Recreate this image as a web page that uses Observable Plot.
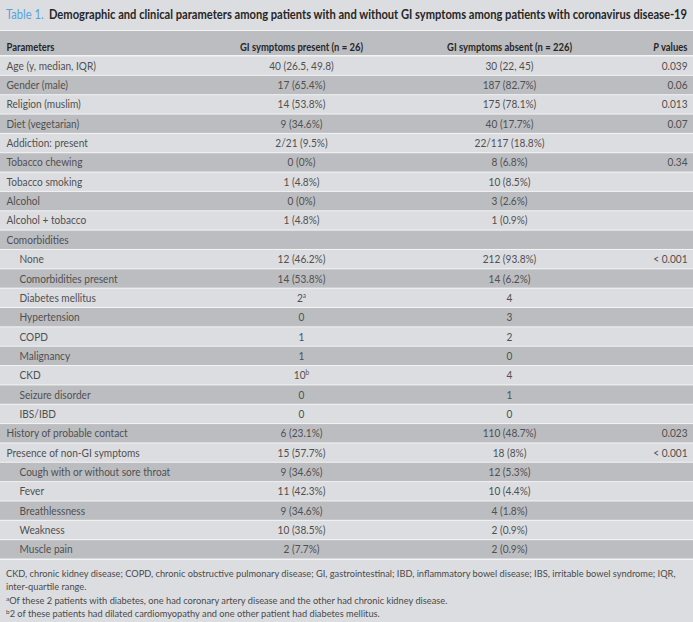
<!DOCTYPE html>
<html>
<head>
<meta charset="utf-8">
<script src="https://cdn.jsdelivr.net/npm/d3@7"></script>
<script src="https://cdn.jsdelivr.net/npm/@observablehq/plot@0.6"></script>
<style>
  html, body { margin: 0; padding: 0; background: #dcdde0; }
  #wrap { width: 693px; height: 622px; overflow: hidden; background: #dcdde0; }
  #title { height: 30px; line-height: 28px; padding-left: 6px; white-space: nowrap; }
  #title .inner { display: inline-block; transform-origin: 0 50%;
    font-family: Lato, "Liberation Sans", sans-serif; font-weight: bold; font-size: 12.5px; color: #262626; }
  #title .lab { color: #55a3dc; font-weight: normal; margin-right: 3px; }
  #foot { padding: 7px 6px 0 6px; font-family: Lato, "Liberation Sans", sans-serif; font-size: 10px; line-height: 13.4px; color: #4a4a4a; white-space: nowrap; }
  #foot sup { font-size: 6.5px; vertical-align: 3px; line-height: 0; }
  svg { display: block; }
</style>
</head>
<body>
<div id="wrap">
  <div id="title"><span class="inner"><span class="lab">Table 1.</span> Demographic and clinical parameters among patients with and without GI symptoms among patients with coronavirus disease-19</span></div>
  <div id="head"></div>
  <div id="body"></div>
  <div id="foot">
    <span id="fl1">CKD, chronic kidney disease; COPD, chronic obstructive pulmonary disease; GI, gastrointestinal; IBD, inflammatory bowel disease; IBS, irritable bowel syndrome; IQR,</span><br>
    inter-quartile range.<br>
    <sup>a</sup>Of these 2 patients with diabetes, one had coronary artery disease and the other had chronic kidney disease.<br>
    <sup>b</sup>2 of these patients had dilated cardiomyopathy and one other patient had diabetes mellitus.
  </div>
</div>
<script>
// ---- data ----
const headers = ["Parameters", "GI symptoms present (n = 26)", "GI symptoms absent (n = 226)", "P values"];
const parameters = [
  "Age (y, median, IQR)", "Gender (male)", "Religion (muslim)", "Diet (vegetarian)",
  "Addiction: present", "Tobacco chewing", "Tobacco smoking", "Alcohol", "Alcohol + tobacco",
  "Comorbidities", "None", "Comorbidities present", "Diabetes mellitus", "Hypertension",
  "COPD", "Malignancy", "CKD", "Seizure disorder", "IBS/IBD",
  "History of probable contact", "Presence of non-GI symptoms",
  "Cough with or without sore throat", "Fever", "Breathlessness", "Weakness", "Muscle pain"
];
const level = [0,0,0,0, 0,0,0,0,0, 0,1,1,1,1, 1,1,1,1,1, 0,0, 1,1,1,1,1];
const giPresent = [
  "40 (26.5, 49.8)", "17 (65.4%)", "14 (53.8%)", "9 (34.6%)",
  "2/21 (9.5%)", "0 (0%)", "1 (4.8%)", "0 (0%)", "1 (4.8%)",
  "", "12 (46.2%)", "14 (53.8%)", "2ᵃ", "0",
  "1", "1", "10ᵇ", "0", "0",
  "6 (23.1%)", "15 (57.7%)",
  "9 (34.6%)", "11 (42.3%)", "9 (34.6%)", "10 (38.5%)", "2 (7.7%)"
];
const giAbsent = [
  "30 (22, 45)", "187 (82.7%)", "175 (78.1%)", "40 (17.7%)",
  "22/117 (18.8%)", "8 (6.8%)", "10 (8.5%)", "3 (2.6%)", "1 (0.9%)",
  "", "212 (93.8%)", "14 (6.2%)", "4", "3",
  "2", "0", "4", "1", "0",
  "110 (48.7%)", "18 (8%)",
  "12 (5.3%)", "10 (4.4%)", "4 (1.8%)", "2 (0.9%)", "2 (0.9%)"
];
const pValues = [
  "0.039", "0.06", "0.013", "0.07",
  "", "0.34", "", "", "",
  "", "< 0.001", "", "", "",
  "", "", "", "", "",
  "0.023", "< 0.001",
  "", "", "", "", ""
];

// ---- layout ----
const W = 693;
const LIGHT = "#dcdde0", DARK = "#bcbdc1";
const xPos = {param: 6, indent: 19, present: 301, absent: 509, p: 687};
const bodyFont = "Lato, 'Liberation Sans', sans-serif";

const rows = parameters.map((p, i) => ({
  id: i, param: p, level: level[i], present: giPresent[i], absent: giAbsent[i], p: pValues[i]
}));

const xScale = {type: "linear", domain: [0, W], range: [0, W], axis: null};

// header
const headRow = [{id: "h", c0: headers[0], c1: headers[1], c2: headers[2], c3: headers[3]}];
const ht = {y: "id", fontWeight: "bold", fontSize: 11, fill: "#262626", dy: 3.5};
const headPlot = Plot.plot({
  width: W, height: 26, margin: 0, marginTop: 1, marginBottom: 1,
  style: {background: "#f4f4f5", fontFamily: bodyFont},
  x: xScale,
  y: {type: "band", domain: ["h"], padding: 0, round: false, axis: null},
  marks: [
    Plot.cell(headRow, {y: "id", fill: DARK}),
    Plot.text(headRow, {...ht, x: () => xPos.param, text: "c0", textAnchor: "start"}),
    Plot.text(headRow, {...ht, x: () => xPos.present, text: "c1", textAnchor: "middle"}),
    Plot.text(headRow, {...ht, x: () => xPos.absent, text: "c2", textAnchor: "middle"}),
    Plot.text(headRow, {...ht, x: () => xPos.p, text: "c3", textAnchor: "end"})
  ]
});
document.getElementById("head").appendChild(headPlot);

// body
const txt = {y: "id", fontSize: 11, fill: "#505050"};
const bodyPlot = Plot.plot({
  width: W, height: 504, margin: 0, marginBottom: 1,
  style: {background: "#f4f4f5", fontFamily: bodyFont},
  x: xScale,
  y: {type: "band", domain: rows.map(d => d.id), padding: 0, round: false, axis: null},
  marks: [
    Plot.cell(rows, {y: "id", fill: d => (d.id % 2 ? DARK : LIGHT), insetBottom: 0.5, insetTop: 0.5}),
    Plot.text(rows, {...txt, x: d => (d.level ? xPos.indent : xPos.param), text: "param", textAnchor: "start"}),
    Plot.text(rows, {...txt, x: () => xPos.present, text: "present", textAnchor: "middle"}),
    Plot.text(rows, {...txt, x: () => xPos.absent, text: "absent", textAnchor: "middle"}),
    Plot.text(rows, {...txt, x: () => xPos.p, text: "p", textAnchor: "end"})
  ]
});
document.getElementById("body").appendChild(bodyPlot);

// rich text: italic P, superscript footnote markers
d3.select(headPlot).selectAll("text").each(function () {
  const t = d3.select(this);
  if (t.text() === "P values") {
    t.text("");
    t.append("tspan").attr("font-style", "italic").text("P");
    t.append("tspan").text(" values");
  }
});
d3.select(bodyPlot).selectAll("text").each(function () {
  const t = d3.select(this);
  const s = t.text();
  const m = s.match(/^(\d+)([ᵃᵇ])$/);
  if (m) {
    t.text("");
    t.append("tspan").text(m[1]);
    t.append("tspan").attr("font-size", 7).attr("dy", -4).text(m[2] === "ᵃ" ? "a" : "b");
  }
});

// condense the table type horizontally (the original uses a condensed face)
function condense(svg, s) {
  d3.select(svg).selectAll("text").each(function () {
    const el = this;
    const tr = el.getAttribute("transform");
    if (tr && /translate/.test(tr)) {
      el.setAttribute("transform", tr + ` scale(${s},1)`);
    } else {
      const x = +(el.getAttribute("x") || 0), y = +(el.getAttribute("y") || 0);
      el.removeAttribute("x"); el.removeAttribute("y");
      el.setAttribute("transform", `translate(${x},${y}) scale(${s},1)` + (tr ? " " + tr : ""));
    }
  });
}
condense(headPlot, 0.86);
condense(bodyPlot, 0.92);

// fit title and footnote widths to the reference
const inner = document.querySelector("#title .inner");
const tw = inner.getBoundingClientRect().width;
inner.style.transform = `scaleX(${Math.min(1.1, 681 / tw)})`;
const fl1 = document.getElementById("fl1");
const fw = fl1.getBoundingClientRect().width;
document.getElementById("foot").style.fontSize = (10 * 670 / fw).toFixed(2) + "px";
</script>
</body>
</html>
